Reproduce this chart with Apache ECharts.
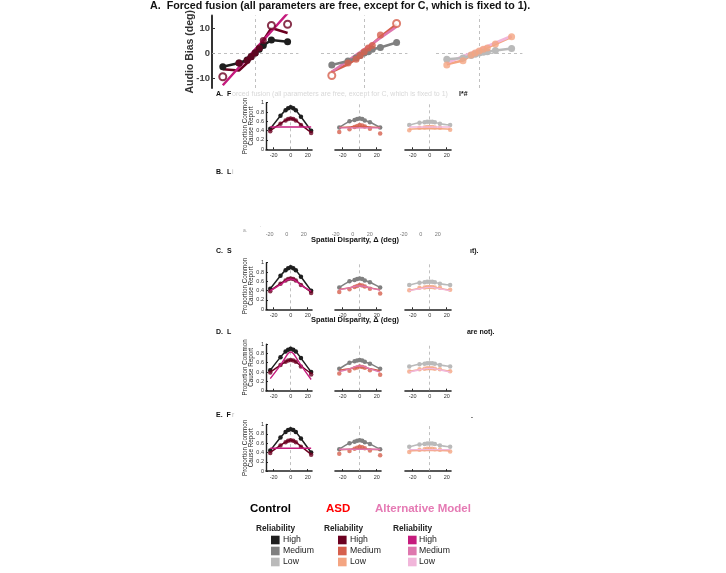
<!DOCTYPE html>
<html><head><meta charset="utf-8">
<script src="https://cdn.jsdelivr.net/npm/echarts@6/dist/echarts.min.js"></script>
<style>html,body{margin:0;padding:0;background:#fff}#c{width:726px;height:573px}</style>
</head><body><div id="c"></div>
<script>
// ---------- DATA ----------
const disparities = [-24, -12, -6, -3, 0, 3, 6, 12, 24];
const lowerTicks = [-20, 0, 20];
const biasTicks = [-10, 0, 10];
const propTicks = [0, 0.2, 0.4, 0.6, 0.8, 1];

// Top row: audio bias (deg)
const biasCtrlHigh   = [-5.5, -4, -2.8, -1.5, 0, 1.5, 3, 5.2, 4.5];
const biasAsdHigh    = [-9.5, -4, -3, -1.5, 0, 2, 5, 11, 11.5];
const biasAsdHighFit = [-6.5, -7, -4, -2, 0, 2.5, 5, 10, 8];
const biasAltHighFit = [-12.9, -5.7, -2.1, -0.3, 1.5, 3.3, 5.1, 8.7, 15.9];
const biasAsdHighOutliers = [0, 7, 8];

const biasCtrlMed    = [-4.8, -3.2, -2, -1, 0, 0.5, 1.5, 2.2, 4.2];
const biasAsdMed     = [-9, -4, -2.5, -1, 0.5, 2, 3, 7.2, 11.8];
const biasAsdMedFit  = [-7.5, -4.5, -2.5, -1, 0.5, 2, 3.5, 6.5, 11.5];
const biasAltMedFit  = [-7.5, -3, -0.75, 0.4, 1.5, 2.6, 3.75, 6, 10.5];
const biasAsdMedOutliers = [0, 8];

const biasCtrlLow    = [-2.5, -2, -1, -0.5, 0, 0.3, 0.5, 1, 1.8];
const biasAsdLow     = [-4.8, -3.1, -0.8, 0, 0.8, 1.5, 2, 3.6, 6.5];
const biasAsdLowFit  = [-4.5, -3, -1, 0, 0.8, 1.5, 2.2, 3.6, 6.5];
const biasAltLowFit  = [-4, -1.3, 0.05, 0.7, 1.4, 2.1, 2.75, 4.1, 6.8];
const biasAsdLowOutliers = [];

// Lower rows: proportion common cause report
const propCtrlHigh = [0.44, 0.72, 0.84, 0.88, 0.90, 0.88, 0.84, 0.70, 0.40];
const propAsdHigh  = [0.39, 0.55, 0.62, 0.65, 0.66, 0.65, 0.62, 0.52, 0.35];
const propCtrlMed  = [0.47, 0.60, 0.63, 0.65, 0.66, 0.65, 0.62, 0.58, 0.47];
const propAsdMed   = [0.37, 0.43, 0.48, 0.50, 0.52, 0.51, 0.49, 0.44, 0.34];
const propCtrlLow  = [0.52, 0.57, 0.58, 0.59, 0.59, 0.59, 0.58, 0.55, 0.52];
const propAsdLow   = [0.41, 0.46, 0.47, 0.48, 0.48, 0.48, 0.47, 0.46, 0.42];

// Model fits per row (A, C, D, E)
const fitAsdHighA = [0.40, 0.55, 0.62, 0.65, 0.66, 0.65, 0.62, 0.53, 0.36];
const fitAsdMedA  = [0.47, 0.48, 0.49, 0.49, 0.49, 0.49, 0.49, 0.48, 0.47];
const fitAsdLowA  = [0.43, 0.44, 0.44, 0.44, 0.44, 0.44, 0.44, 0.44, 0.43];
const fitAltHighA = [0.48, 0.48, 0.48, 0.48, 0.48, 0.48, 0.48, 0.48, 0.48];
const fitAltMedA  = [0.46, 0.46, 0.46, 0.46, 0.46, 0.46, 0.46, 0.46, 0.46];
const fitAltLowA  = [0.48, 0.48, 0.48, 0.48, 0.48, 0.48, 0.48, 0.48, 0.48];

const fitAsdHighC = [0.40, 0.55, 0.62, 0.65, 0.66, 0.65, 0.62, 0.53, 0.37];
const fitAsdMedC  = [0.43, 0.46, 0.49, 0.50, 0.51, 0.50, 0.49, 0.46, 0.42];
const fitAsdLowC  = [0.41, 0.45, 0.47, 0.48, 0.48, 0.48, 0.47, 0.45, 0.41];
const fitAltHighC = [0.40, 0.53, 0.61, 0.64, 0.65, 0.64, 0.61, 0.52, 0.39];
const fitAltMedC  = [0.42, 0.46, 0.49, 0.50, 0.50, 0.50, 0.49, 0.46, 0.41];
const fitAltLowC  = [0.40, 0.44, 0.46, 0.47, 0.47, 0.47, 0.46, 0.44, 0.40];

const fitAsdHighD = [0.40, 0.55, 0.62, 0.65, 0.66, 0.65, 0.62, 0.53, 0.37];
const fitAsdMedD  = [0.44, 0.47, 0.50, 0.51, 0.52, 0.51, 0.50, 0.47, 0.43];
const fitAsdLowD  = [0.42, 0.45, 0.47, 0.48, 0.48, 0.48, 0.47, 0.45, 0.42];
const fitAltHighD = [0.26, 0.55, 0.72, 0.80, 0.83, 0.80, 0.72, 0.55, 0.24];
const fitAltMedD  = [0.41, 0.47, 0.51, 0.53, 0.53, 0.53, 0.51, 0.47, 0.40];
const fitAltLowD  = [0.40, 0.45, 0.47, 0.48, 0.48, 0.48, 0.47, 0.45, 0.40];

const fitAsdHighE = [0.40, 0.55, 0.62, 0.65, 0.66, 0.65, 0.62, 0.53, 0.36];
const fitAsdMedE  = [0.46, 0.47, 0.48, 0.48, 0.48, 0.48, 0.48, 0.47, 0.46];
const fitAsdLowE  = [0.43, 0.44, 0.44, 0.44, 0.44, 0.44, 0.44, 0.44, 0.43];
const fitAltHighE = [0.49, 0.49, 0.49, 0.49, 0.49, 0.49, 0.49, 0.49, 0.49];
const fitAltMedE  = [0.47, 0.47, 0.47, 0.47, 0.47, 0.47, 0.47, 0.47, 0.47];
const fitAltLowE  = [0.46, 0.46, 0.46, 0.46, 0.46, 0.46, 0.46, 0.46, 0.46];

const legendGroups = ['Control', 'ASD', 'Alternative Model'];
const legendLevels = ['High', 'Medium', 'Low'];

// ---------- STYLE ----------
const COL = {
  ctrl: ['#1e1e1e', '#808080', '#bababa'],
  asd:  ['#6b0020', '#d6604d', '#f4a582'],
  alt:  ['#c51b7d', '#de77ae', '#f1b6da']
};
const FONT = 'Liberation Sans, Arial, Helvetica, sans-serif';
const pairs = (ys) => disparities.map((x, i) => [x, ys[i]]);

const grids = [], xAxes = [], yAxes = [], series = [];

function zeroLines(withY) {
  const d = [{ xAxis: 0 }];
  if (withY) d.push({ yAxis: 0 });
  return { silent: true, symbol: 'none', label: { show: false },
    lineStyle: { type: [3, 3], color: '#b0b0b0', width: 0.8 }, data: d, z: 1 };
}

// ---------- TOP ROW ----------
const topPanels = [
  { ctrl: biasCtrlHigh, asd: biasAsdHigh, asdFit: biasAsdHighFit, alt: biasAltHighFit, out: biasAsdHighOutliers, lvl: 0, left: 212 },
  { ctrl: biasCtrlMed,  asd: biasAsdMed,  asdFit: biasAsdMedFit,  alt: biasAltMedFit,  out: biasAsdMedOutliers,  lvl: 1, left: 321 },
  { ctrl: biasCtrlLow,  asd: biasAsdLow,  asdFit: biasAsdLowFit,  alt: biasAltLowFit,  out: biasAsdLowOutliers,  lvl: 2, left: 436 }
];
topPanels.forEach((p, k) => {
  const g = grids.length;
  grids.push({ left: p.left, top: 15.5, width: 86.4, height: 72.5 });
  xAxes.push({ gridIndex: g, type: 'value', min: -32, max: 32, show: false });
  yAxes.push({ gridIndex: g, type: 'value', min: -14, max: 15, show: k === 0,
    name: k === 0 ? 'Audio Bias (deg)' : '', nameLocation: 'middle', nameGap: 16, nameMoveOverlap: false,
    nameTextStyle: { fontFamily: FONT, fontWeight: 'bold', fontSize: 10.5, color: '#333' },
    axisLine: { show: true, onZero: false, lineStyle: { color: '#333', width: 2 } },
    axisTick: { show: true, inside: true, length: 3, customValues: biasTicks, lineStyle: { color: '#333' } },
    axisLabel: { customValues: biasTicks, fontFamily: FONT, fontWeight: 'bold', fontSize: 9.5, color: '#444', margin: 2 },
    splitLine: { show: false } });
  const c = COL.ctrl[p.lvl], a = COL.asd[p.lvl], m = COL.alt[p.lvl];
  series.push({ type: 'line', xAxisIndex: g, yAxisIndex: g, data: pairs(p.asdFit), showSymbol: false,
    lineStyle: { color: a, width: 2.5 }, z: 2, markLine: zeroLines(true) });
  series.push({ type: 'line', xAxisIndex: g, yAxisIndex: g, data: pairs(p.alt), showSymbol: false,
    lineStyle: { color: m, width: 2.5 }, z: 3 });
  series.push({ type: 'line', xAxisIndex: g, yAxisIndex: g, data: pairs(p.ctrl), symbol: 'circle', symbolSize: 7,
    lineStyle: { color: c, width: 2.5 }, itemStyle: { color: c }, z: 4 });
  series.push({ type: 'scatter', xAxisIndex: g, yAxisIndex: g, z: 5,
    data: disparities.map((x, i) => {
      const hollow = p.out.includes(i);
      return { value: [x, p.asd[i]], symbolSize: 7,
        itemStyle: hollow ? { color: '#fff', borderColor: a, borderWidth: 2 } : { color: a } };
    }) });
});

// ---------- LOWER ROWS ----------
const lowerRows = [
  { top: 102.7, fits: [[fitAsdHighA, fitAltHighA], [fitAsdMedA, fitAltMedA], [fitAsdLowA, fitAltLowA]] },
  { top: 262.7, fits: [[fitAsdHighC, fitAltHighC], [fitAsdMedC, fitAltMedC], [fitAsdLowC, fitAltLowC]] },
  { top: 344.1, fits: [[fitAsdHighD, fitAltHighD], [fitAsdMedD, fitAltMedD], [fitAsdLowD, fitAltLowD]] },
  { top: 424.5, fits: [[fitAsdHighE, fitAltHighE], [fitAsdMedE, fitAltMedE], [fitAsdLowE, fitAltLowE]] }
];
const ctrlData = [propCtrlHigh, propCtrlMed, propCtrlLow];
const asdData = [propAsdHigh, propAsdMed, propAsdLow];
const panelLefts = [266, 335, 405];

lowerRows.forEach((row) => {
  panelLefts.forEach((left, k) => {
    const g = grids.length;
    grids.push({ left: left, top: row.top, width: 46, height: 46.6 });
    xAxes.push({ gridIndex: g, type: 'value', min: -29, max: 25,
      axisLine: { show: true, onZero: false, lineStyle: { color: '#222', width: 1.6 } },
      axisTick: { show: true, inside: true, length: 2, customValues: lowerTicks, lineStyle: { color: '#222' } },
      axisLabel: { customValues: lowerTicks, fontFamily: FONT, fontSize: 5.5, color: '#333', margin: 3 },
      splitLine: { show: false } });
    yAxes.push({ gridIndex: g, type: 'value', min: 0, max: 1, interval: 0.2, show: k === 0,
      name: k === 0 ? 'Proportion Common\nCause Report' : '', nameLocation: 'middle', nameGap: 11,
      nameMoveOverlap: false,
      nameTextStyle: { fontFamily: FONT, fontSize: 6.3, color: '#222', lineHeight: 6.5 },
      axisLine: { show: true, onZero: false, lineStyle: { color: '#222', width: 1.4 } },
      axisTick: { show: true, inside: true, length: 2, lineStyle: { color: '#222' } },
      axisLabel: { fontFamily: FONT, fontSize: 5.5, color: '#333', margin: 2 },
      splitLine: { show: false } });
    const c = COL.ctrl[k], a = COL.asd[k], m = COL.alt[k];
    series.push({ type: 'line', xAxisIndex: g, yAxisIndex: g, data: pairs(ctrlData[k]), smooth: 0.3,
      symbol: 'circle', symbolSize: 4.5, lineStyle: { color: c, width: 1.5 }, itemStyle: { color: c },
      z: 2, markLine: zeroLines(false) });
    series.push({ type: 'line', xAxisIndex: g, yAxisIndex: g, data: pairs(row.fits[k][0]), smooth: 0.3,
      showSymbol: false, lineStyle: { color: a, width: 1.5 }, z: 3 });
    series.push({ type: 'scatter', xAxisIndex: g, yAxisIndex: g, data: pairs(asdData[k]), symbolSize: 4.5,
      itemStyle: { color: a }, z: 4 });
    series.push({ type: 'line', xAxisIndex: g, yAxisIndex: g, data: pairs(row.fits[k][1]), smooth: 0.3,
      showSymbol: false, lineStyle: { color: m, width: 1.4 }, z: 5 });
  });
});

// Row B: only tick labels remain
[262, 328, 396].forEach((left) => {
  const g = grids.length;
  grids.push({ left: left, top: 226, width: 46, height: 2 });
  xAxes.push({ gridIndex: g, type: 'value', min: -29, max: 25,
    axisLine: { show: false }, axisTick: { show: false },
    axisLabel: { customValues: lowerTicks, fontFamily: FONT, fontSize: 5.5, color: '#777', margin: 3 },
    splitLine: { show: false } });
  yAxes.push({ gridIndex: g, type: 'value', min: 0, max: 1, show: false });
});

// ---------- TEXT & LEGEND ----------
const txt = (x, y, s, o) => Object.assign({ type: 'text', x: x, y: y,
  style: Object.assign({ text: s, fontFamily: FONT, fontSize: 7, fontWeight: 'bold', fill: '#111',
    textVerticalAlign: 'middle' }, o || {}) });
const graphics = [
  txt(150, 6, 'A.  Forced fusion (all parameters are free, except for C, which is fixed to 1).', { fontSize: 10.7 }),
  txt(216, 94, 'A.  F'),
  txt(232, 94, 'orced fusion (all parameters are free, except for C, which is fixed to 1)', { fill: '#d8d8d8', fontWeight: 'normal' }),
  txt(459, 94, 'l*#'),
  txt(216, 172, 'B.  L'),
  txt(232, 172, 'i', { fill: '#bbb', fontWeight: 'normal' }),
  txt(243, 231, 'a.', { fill: '#999', fontWeight: 'normal', fontSize: 5 }),
  txt(260, 229, '˙', { fill: '#999', fontWeight: 'normal', fontSize: 5 }),
  txt(355, 240, 'Spatial Disparity, Δ (deg)', { textAlign: 'center', fontSize: 7.5 }),
  txt(216, 251, 'C.  S'),
  txt(470, 251, 'ıt).'),
  txt(355, 320, 'Spatial Disparity, Δ (deg)', { textAlign: 'center', fontSize: 7.5 }),
  txt(216, 332, 'D.  L'),
  txt(465, 332, ' are not).'),
  txt(216, 415, 'E.  F'),
  txt(232, 415, 'r', { fill: '#bbb', fontWeight: 'normal' }),
  txt(471, 416, '.')
];
const groupX = [250, 326, 375];
const groupColors = ['#000', '#ff0000', '#e57ab4'];
legendGroups.forEach((name, i) => graphics.push(txt(groupX[i], 509, name, { fontSize: 11.5, fill: groupColors[i] })));
const relX = [256, 324, 393], swX = [271, 338, 408], lblX = [283, 350, 419], rowY = [540, 551, 562];
const swCols = [COL.ctrl, COL.asd, COL.alt];
relX.forEach((x, i) => {
  graphics.push(txt(x, 529, 'Reliability', { fontSize: 8.3, fill: '#222' }));
  legendLevels.forEach((lv, j) => {
    graphics.push({ type: 'rect', shape: { x: swX[i], y: rowY[j] - 4.3, width: 8.6, height: 8.6 },
      style: { fill: swCols[i][j] } });
    graphics.push(txt(lblX[i], rowY[j], lv, { fontSize: 8.7, fill: '#222', fontWeight: 'normal' }));
  });
});

const chart = echarts.init(document.getElementById('c'), null, { renderer: 'canvas' });
chart.setOption({
  animation: false,
  backgroundColor: '#fff',
  grid: grids, xAxis: xAxes, yAxis: yAxes, series: series,
  graphic: graphics
});
</script></body></html>
